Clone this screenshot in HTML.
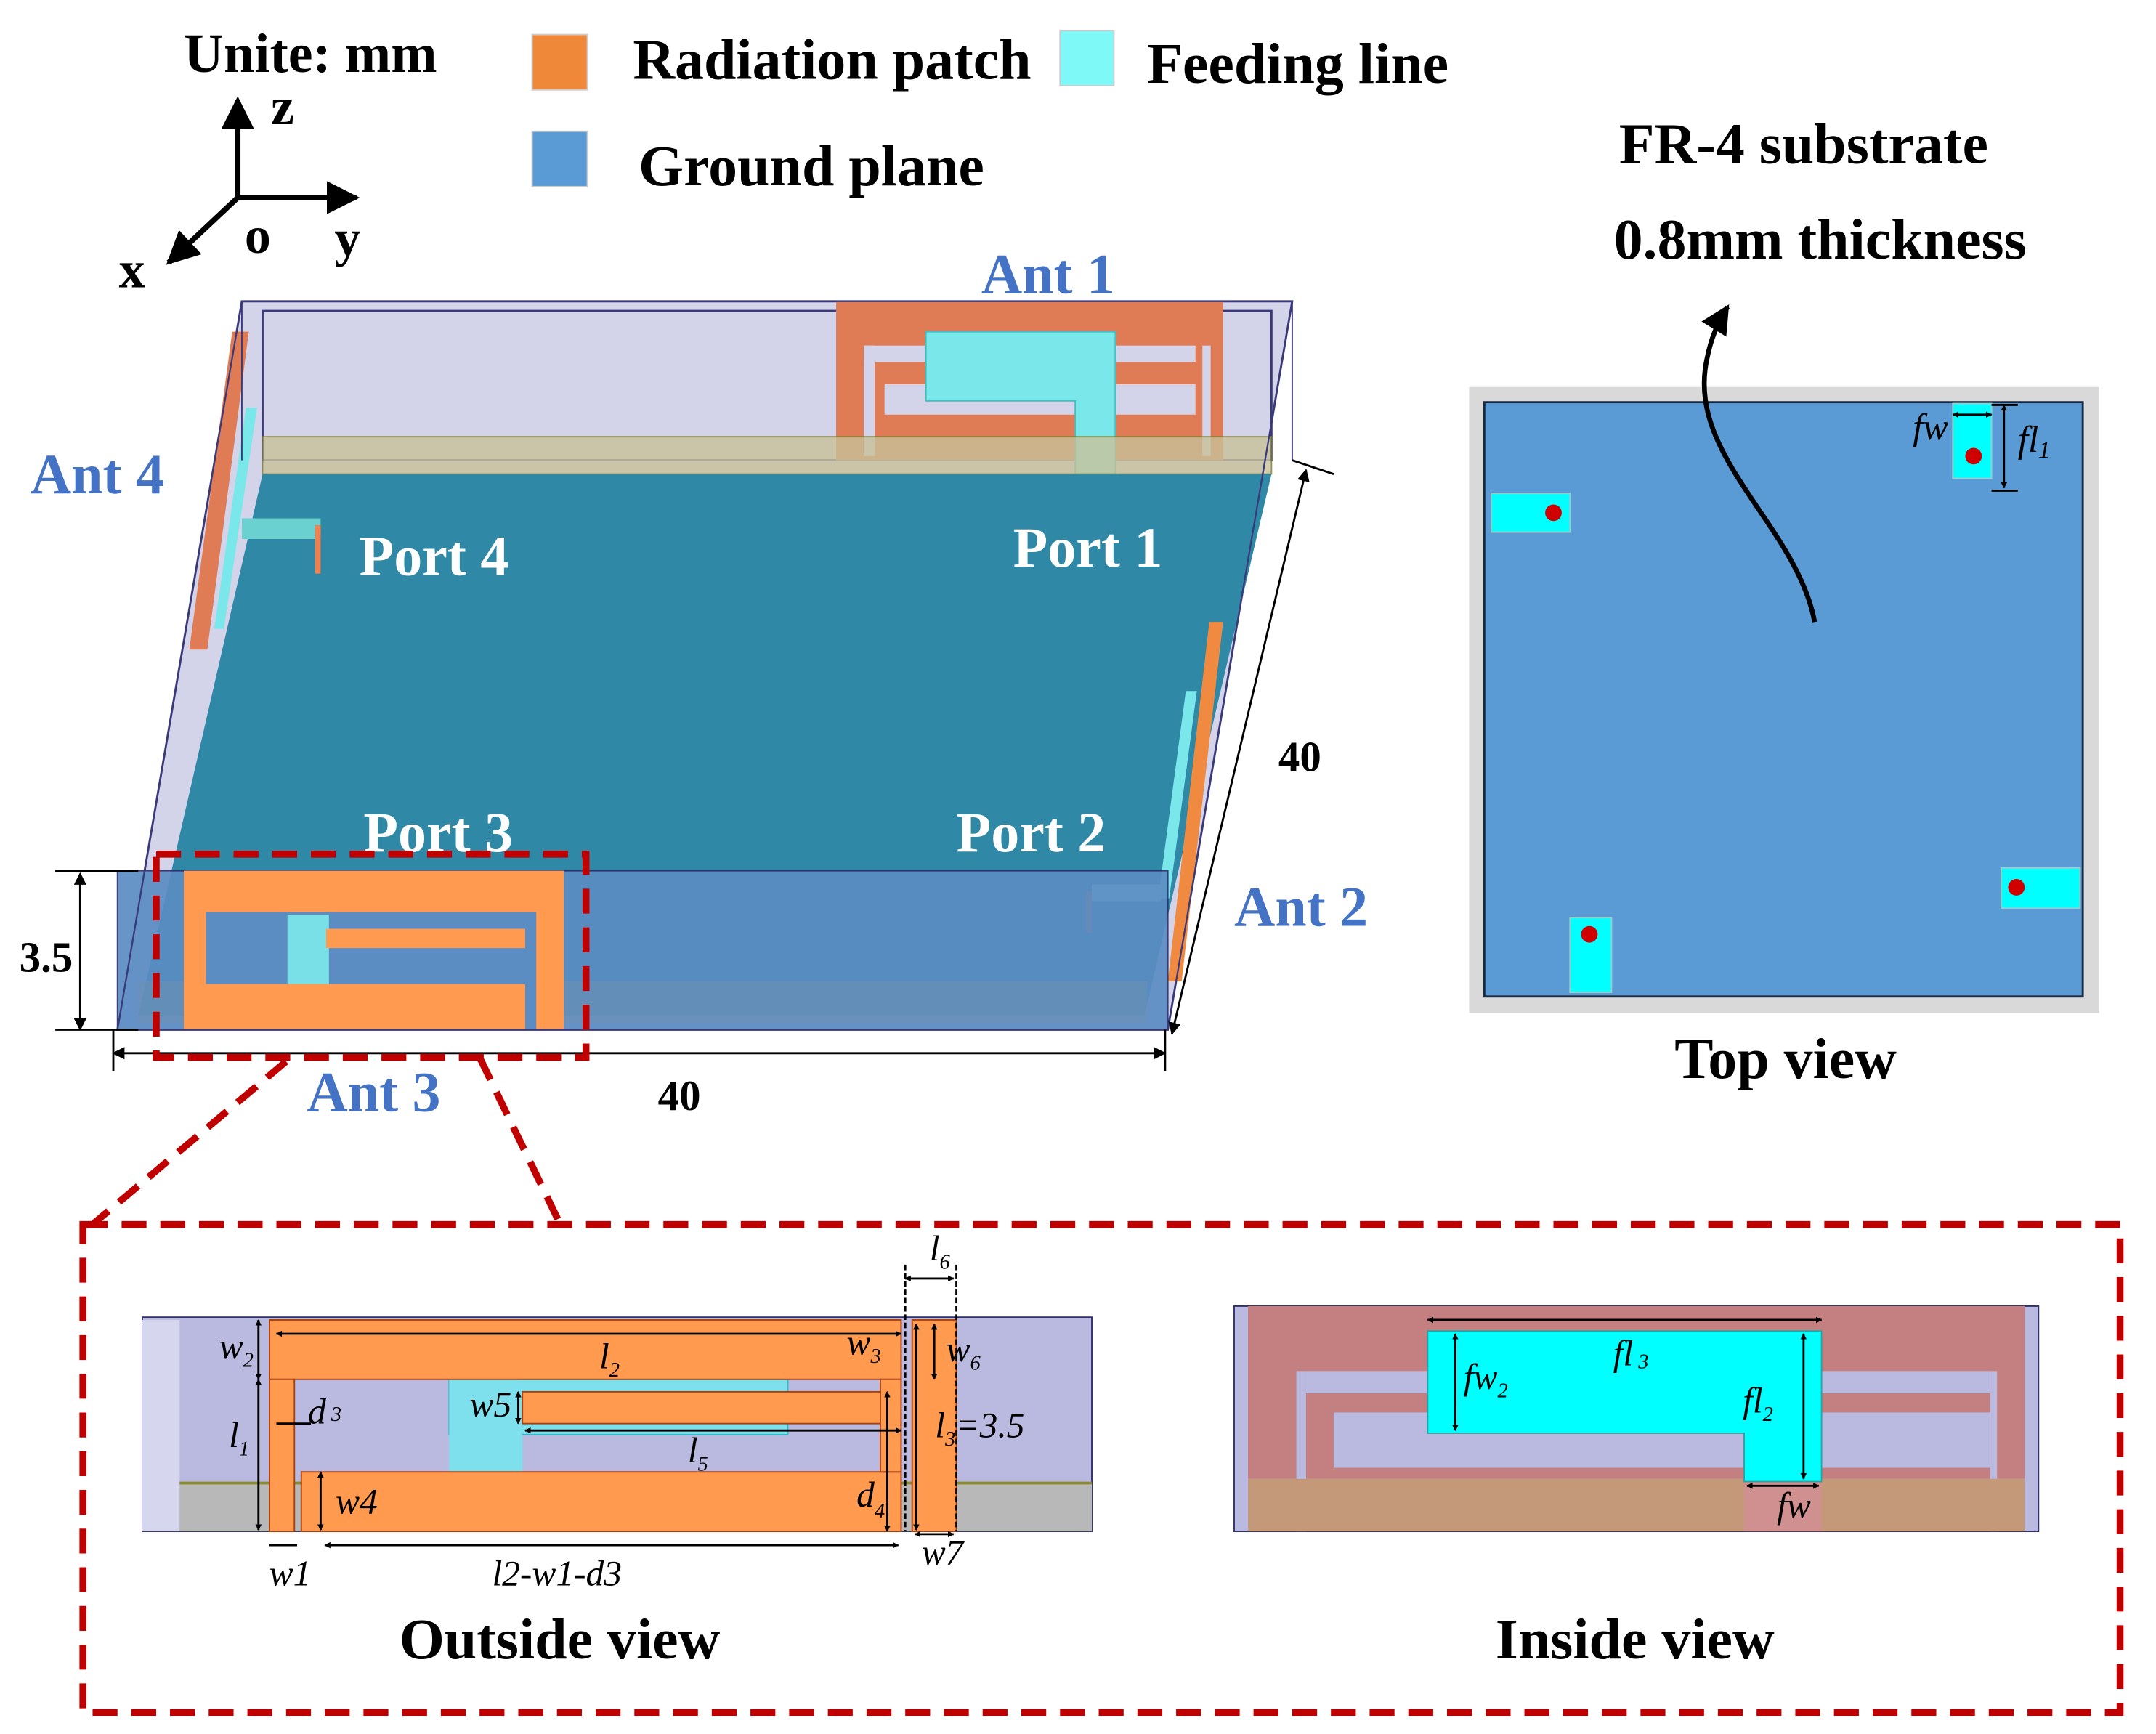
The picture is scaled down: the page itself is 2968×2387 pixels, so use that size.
<!DOCTYPE html>
<html><head><meta charset="utf-8"><style>
html,body{margin:0;padding:0;background:#fff;}
svg{display:block;}
text{font-family:"Liberation Serif",serif;font-weight:bold;}
.it{font-style:italic;font-weight:normal;}
</style></head><body>
<svg width="2968" height="2387" viewBox="0 0 1560 1254.6" xmlns="http://www.w3.org/2000/svg">
<defs>
<marker id="ah" viewBox="0 0 10 10" refX="9" refY="5" markerWidth="6" markerHeight="6" orient="auto-start-reverse"><path d="M0,0L10,5L0,10z" fill="#000"/></marker>
<marker id="sa" viewBox="0 0 10 10" refX="9" refY="5" markerWidth="3" markerHeight="3" orient="auto-start-reverse"><path d="M0,0L10,5L0,10z" fill="#000"/></marker>
</defs>
<rect width="1560" height="1255" fill="#fff"/>
<!-- header -->
<text x="133" y="52" font-size="40">Unite: mm</text>
<g stroke="#000" stroke-width="4" fill="none">
<line x1="172" y1="143" x2="172" y2="72" marker-end="url(#ah)"/>
<line x1="172" y1="143" x2="258" y2="143" marker-end="url(#ah)"/>
<line x1="172" y1="143" x2="122" y2="190" marker-end="url(#ah)"/>
</g>
<text x="196" y="90" font-size="38">z</text>
<text x="177" y="183" font-size="38">o</text>
<text x="242" y="185" font-size="38">y</text>
<text x="86" y="208" font-size="38">x</text>
<rect x="385" y="25" width="40" height="40" fill="#f0883a" stroke="#ccc"/>
<text x="458" y="57" font-size="42">Radiation patch</text>
<rect x="767" y="22" width="39" height="40" fill="#7ff8f8" stroke="#ccc"/>
<text x="830" y="60" font-size="42">Feeding line</text>
<rect x="385" y="95" width="40" height="40" fill="#5b9bd5" stroke="#ccc"/>
<text x="462" y="134" font-size="42">Ground plane</text>
<text x="1305" y="118" font-size="42" text-anchor="middle">FR-4 substrate</text>
<text x="1317" y="187" font-size="42" text-anchor="middle">0.8mm thickness</text>

<!-- 3D box -->
<polygon points="175,218 935,218 845,745 85,745" fill="#d3d3ea" stroke="#3a3a7a" stroke-width="1.5"/>
<polygon points="190,225 920,225 920,333 190,333" fill="#d3d3ea" stroke="#3a3a7a" stroke-width="1.5"/>
<!-- Ant1 back -->
<rect x="605" y="218" width="280" height="115" fill="#df7b55"/>
<rect x="625" y="250" width="240" height="12" fill="#d3d3ea"/>
<rect x="640" y="278" width="225" height="22" fill="#d3d3ea"/>
<rect x="625" y="250" width="8" height="80" fill="#d3d3ea"/>
<rect x="870" y="250" width="6" height="80" fill="#d3d3ea"/>
<polygon points="670,240 807,240 807,345 778,345 778,290 670,290" fill="#7ae8ea" stroke="#40c0c0"/>
<rect x="775" y="345" width="28" height="27" fill="#f6a070"/>
<polygon points="190,316 920,316 920,343 190,343" fill="#c9c29a" opacity="0.8" stroke="#7a7a30"/>
<!-- ground plane -->
<polygon points="190,343 920,343 828,735 100,735" fill="#2f88a6"/>
<!-- left wall Ant4 -->
<polygon points="168,240 180,240 150,470 137,470" fill="#df7b55"/>
<polygon points="178,295 186,295 162,455 155,455" fill="#7ae8ea"/>
<polygon points="175,375 232,375 232,390 175,390" fill="#6ad0d0"/>
<rect x="228" y="380" width="4" height="35" fill="#f08050"/>
<!-- right wall Ant2 -->
<polygon points="875,450 885,450 855,710 845,710" fill="#f08a40"/>
<polygon points="858,500 866,500 846,650 838,650" fill="#7ae8ea"/>
<polygon points="790,640 840,640 840,652 790,652" fill="#a8e8f0"/>
<rect x="786" y="645" width="4" height="30" fill="#f08050"/>
<!-- front wall -->
<polygon points="85,630 845,630 845,745 85,745" fill="#5b8dc3" opacity="0.92" stroke="#303070"/>
<rect x="100" y="710" width="730" height="30" fill="#6f8fb0" opacity="0.5"/>
<!-- Ant3 -->
<rect x="133" y="630" width="275" height="115" fill="#ff9a50"/>
<rect x="145" y="660" width="235" height="52" fill="#5b8dc3"/>
<rect x="208" y="662" width="30" height="50" fill="#7ae0e8"/>
<rect x="236" y="672" width="145" height="14" fill="#ff9a50"/>
<rect x="148" y="712" width="232" height="33" fill="#ff9a50"/>
<rect x="380" y="660" width="8" height="85" fill="#5b8dc3"/>
<rect x="145" y="660" width="4" height="85" fill="#ff9a50"/>
<polygon points="175,218 935,218 845,745 85,745" fill="none" stroke="#3a3a7a" stroke-width="1.2"/>
<line x1="935" y1="218" x2="935" y2="333" stroke="#3a3a7a"/>
<line x1="175" y1="218" x2="175" y2="333" stroke="#3a3a7a"/>
<!-- labels -->
<g fill="#4472c4" font-size="41"><text x="710" y="212">Ant 1</text><text x="22" y="357">Ant 4</text><text x="893" y="670">Ant 2</text><text x="222" y="804">Ant 3</text></g>
<g fill="#fff" font-size="41"><text x="260" y="416">Port 4</text><text x="733" y="410">Port 1</text><text x="263" y="616">Port 3</text><text x="692" y="616">Port 2</text></g>
<!-- dims -->
<g stroke="#000" stroke-width="1.5">
<line x1="82" y1="762" x2="843" y2="762" marker-start="url(#ah)" marker-end="url(#ah)"/>
<line x1="82" y1="745" x2="82" y2="775"/><line x1="843" y1="745" x2="843" y2="775"/>
<line x1="58" y1="632" x2="58" y2="745" marker-start="url(#ah)" marker-end="url(#ah)"/>
<line x1="40" y1="630" x2="100" y2="630"/><line x1="40" y1="745" x2="100" y2="745"/>
<line x1="945" y1="340" x2="848" y2="748" marker-start="url(#ah)" marker-end="url(#ah)"/>
<line x1="935" y1="333" x2="965" y2="343"/>
</g>
<text x="476" y="803" font-size="31">40</text>
<text x="925" y="558" font-size="31">40</text>
<text x="14" y="703" font-size="31">3.5</text>
<!-- red dashes -->
<g stroke="#c00000" stroke-width="5" fill="none" stroke-dasharray="18,10">
<rect x="113" y="618" width="311" height="147"/>
<line x1="207" y1="768" x2="68" y2="885"/>
<line x1="347" y1="765" x2="405" y2="885"/>
<rect x="60" y="886" width="1474" height="353"/>
</g>

<!-- top view -->
<rect x="1063" y="280" width="456" height="453" fill="#d9d9d9"/>
<rect x="1074" y="291" width="433" height="430" fill="#5b9bd5" stroke="#1a2a40" stroke-width="1.5"/>
<g fill="#00ffff" stroke="#9cc"><rect x="1079" y="357" width="57" height="28"/><rect x="1413" y="292" width="28" height="54"/><rect x="1448" y="628" width="57" height="29"/><rect x="1136" y="664" width="30" height="54"/></g>
<g fill="#d00000"><circle cx="1124" cy="371" r="6"/><circle cx="1428" cy="330" r="6"/><circle cx="1459" cy="642" r="6"/><circle cx="1150" cy="676" r="6"/></g>
<path d="M1313,450 C1300,380 1220,330 1235,260 C1238,245 1242,235 1250,222" stroke="#000" stroke-width="3.5" fill="none" marker-end="url(#ah)"/>
<g stroke="#000" stroke-width="1.5"><line x1="1413" y1="300" x2="1441" y2="300" marker-start="url(#sa)" marker-end="url(#sa)"/><line x1="1450" y1="293" x2="1450" y2="353" marker-start="url(#sa)" marker-end="url(#sa)"/><line x1="1441" y1="293" x2="1460" y2="293"/><line x1="1441" y1="355" x2="1460" y2="355"/></g>
<text x="1384" y="318" font-size="27" class="it">fw</text>
<text x="1460" y="327" font-size="27" class="it">fl<tspan font-size="17" dy="4">1</tspan></text>
<text x="1292" y="780" font-size="42" text-anchor="middle">Top view</text>

<!-- outside view -->
<rect x="103" y="953" width="687" height="155" fill="#babae0" stroke="#303070"/>
<rect x="103" y="955" width="27" height="153" fill="#d6d6ee"/>
<rect x="130" y="1073" width="660" height="35" fill="#b8b8b8"/>
<line x1="130" y1="1073" x2="790" y2="1073" stroke="#8a8a30" stroke-width="2"/>
<rect x="325" y="998" width="245" height="40" fill="#7ee0ec" stroke="#30b8c8"/>
<rect x="325" y="998" width="53" height="67" fill="#7ee0ec"/>
<g fill="#ff9a4e" stroke="#a84010" stroke-width="1">
<rect x="195" y="955" width="457" height="43"/>
<rect x="195" y="998" width="18" height="110"/>
<rect x="218" y="1065" width="434" height="43"/>
<rect x="378" y="1007" width="259" height="23"/>
<rect x="637" y="998" width="15" height="67"/>
<rect x="660" y="955" width="32" height="153"/>
</g>
<g stroke="#000" stroke-width="1.5">
<line x1="200" y1="965" x2="652" y2="965" marker-start="url(#sa)" marker-end="url(#sa)"/>
<line x1="187" y1="955" x2="187" y2="998" marker-start="url(#sa)" marker-end="url(#sa)"/>
<line x1="187" y1="998" x2="187" y2="1107" marker-start="url(#sa)" marker-end="url(#sa)"/>
<line x1="232" y1="1065" x2="232" y2="1107" marker-start="url(#sa)" marker-end="url(#sa)"/>
<line x1="375" y1="1007" x2="375" y2="1030" marker-start="url(#sa)" marker-end="url(#sa)"/>
<line x1="380" y1="1035" x2="652" y2="1035" marker-start="url(#sa)" marker-end="url(#sa)"/>
<line x1="642" y1="1007" x2="642" y2="1108" marker-start="url(#sa)" marker-end="url(#sa)"/>
<line x1="676" y1="958" x2="676" y2="998" marker-start="url(#sa)" marker-end="url(#sa)"/>
<line x1="663" y1="958" x2="663" y2="1107" marker-start="url(#sa)" marker-end="url(#sa)"/>
<line x1="655" y1="925" x2="690" y2="925" marker-start="url(#sa)" marker-end="url(#sa)"/>
<line x1="655" y1="915" x2="655" y2="1108" stroke-dasharray="4,2"/><line x1="692" y1="915" x2="692" y2="1108" stroke-dasharray="4,2"/>
<line x1="235" y1="1118" x2="650" y2="1118" marker-start="url(#sa)" marker-end="url(#sa)"/>
<line x1="195" y1="1118" x2="215" y2="1118"/>
<line x1="662" y1="1110" x2="690" y2="1110" marker-start="url(#sa)" marker-end="url(#sa)"/>
<line x1="200" y1="1030" x2="225" y2="1030"/>
</g>
<g font-size="26" class="it" text-anchor="middle">
<text x="171" y="983" class="it">w<tspan font-size="15" dy="6">2</tspan></text>
<text x="441" y="990" class="it">l<tspan font-size="15" dy="6">2</tspan></text>
<text x="625" y="980" class="it">w<tspan font-size="15" dy="6">3</tspan></text>
<text x="697" y="985" class="it">w<tspan font-size="15" dy="6">6</tspan></text>
<text x="680" y="912" class="it">l<tspan font-size="15" dy="6">6</tspan></text>
<text x="173" y="1047" class="it">l<tspan font-size="15" dy="6">1</tspan></text>
<text x="235" y="1030" class="it">d<tspan font-size="15" dy="-2"> 3</tspan></text>
<text x="355" y="1025" class="it">w5</text>
<text x="505" y="1058" class="it">l<tspan font-size="15" dy="6">5</tspan></text>
<text x="709" y="1040" class="it">l<tspan font-size="15" dy="6">3</tspan><tspan dy="-6">=3.5</tspan></text>
<text x="258" y="1095" class="it">w4</text>
<text x="630" y="1090" class="it">d<tspan font-size="15" dy="8">4</tspan></text>
<text x="210" y="1147" class="it">w1</text>
<text x="403" y="1147" class="it">l2-w1-d3</text>
<text x="682" y="1132" class="it">w7</text>
</g>
<text x="405" y="1200" font-size="42" text-anchor="middle">Outside view</text>

<!-- inside view -->
<rect x="893" y="945" width="582" height="163" fill="#babae0" stroke="#303070"/>
<rect x="903" y="945" width="562" height="125" fill="#c48080"/>
<rect x="945" y="992" width="495" height="16" fill="#babae0"/>
<rect x="965" y="1022" width="475" height="40" fill="#babae0"/>
<rect x="938" y="992" width="7" height="116" fill="#babae0"/>
<rect x="1440" y="992" width="5" height="116" fill="#babae0"/>
<rect x="903" y="1070" width="562" height="38" fill="#c4997a"/>
<rect x="1262" y="1070" width="56" height="38" fill="#d09090"/>
<polygon points="1033,963 1318,963 1318,1072 1262,1072 1262,1037 1033,1037" fill="#00ffff" stroke="#30a0a0"/>
<g stroke="#000" stroke-width="1.5">
<line x1="1033" y1="955" x2="1318" y2="955" marker-start="url(#sa)" marker-end="url(#sa)"/>
<line x1="1053" y1="965" x2="1053" y2="1035" marker-start="url(#sa)" marker-end="url(#sa)"/>
<line x1="1305" y1="965" x2="1305" y2="1070" marker-start="url(#sa)" marker-end="url(#sa)"/>
<line x1="1264" y1="1075" x2="1316" y2="1075" marker-start="url(#sa)" marker-end="url(#sa)"/>
</g>
<g font-size="26" class="it" text-anchor="middle">
<text x="1075" y="1005" class="it">fw<tspan font-size="15" dy="6">2</tspan></text>
<text x="1180" y="988" class="it">fl<tspan font-size="15" dy="2"> 3</tspan></text>
<text x="1272" y="1022" class="it">fl<tspan font-size="15" dy="6">2</tspan></text>
<text x="1298" y="1098" class="it">fw</text>
</g>
<text x="1183" y="1200" font-size="42" text-anchor="middle">Inside view</text>
</svg>
</body></html>
